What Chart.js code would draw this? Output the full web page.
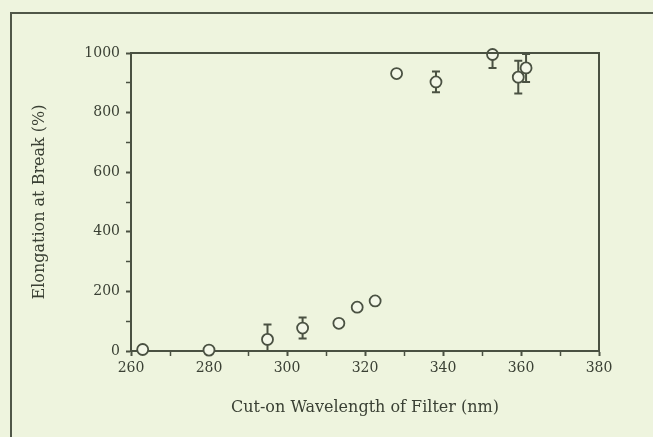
<!DOCTYPE html>
<html>
<head>
<meta charset="utf-8">
<script src="https://cdn.jsdelivr.net/npm/chart.js@4.4.1/dist/chart.umd.min.js"></script>
<style>
    html, body { margin: 0; padding: 0; background: #eef4de; overflow: hidden; }
    #frame {
        position: absolute; left: 10px; top: 12px; width: 700px; height: 500px;
        border-left: 2px solid #505748; border-top: 2px solid #505748;
    }
    #wrap { position: absolute; left: 0; top: 0; width: 653px; height: 437px; }
</style>
</head>
<body>
<div id="frame"></div>
<div id="wrap"><canvas id="elongation"></canvas></div>
<script>
// cut-on wavelength (nm) of each filter
const wavelengths = [263, 280, 295, 304, 313.3, 318, 322.6, 328.1, 338.2, 352.7, 359.3, 361.3];
// elongation at break (%)
const elongation = [5, 3, 39, 77, 93, 147, 168, 931, 903, 995, 919, 950];
// +/- error on elongation, 0 where no bar is shown
const elongationErr = [0, 0, 50, 35, 0, 0, 0, 0, 35, 45, 55, 47];
const xTicks = [260, 280, 300, 320, 340, 360, 380];
const yTicks = [0, 200, 400, 600, 800, 1000];

const ink = '#4a5142';
const textInk = '#3a4034';
const serif = "'DejaVu Serif', 'Liberation Serif', serif";

// error bars drawn under the points, clipped to the plot area
const errorBars = {
    id: 'errorBars',
    beforeDatasetsDraw(chart) {
        const ctx = chart.ctx;
        const x = chart.scales.x, y = chart.scales.y;
        const area = chart.chartArea;
        ctx.save();
        ctx.beginPath();
        ctx.rect(area.left, area.top - 1, area.right - area.left, area.bottom - area.top + 1);
        ctx.clip();
        ctx.strokeStyle = ink;
        ctx.lineWidth = 2;
        elongationErr.forEach(function (err, i) {
            if (!err) return;
            let px = x.getPixelForValue(wavelengths[i]);
            let top = y.getPixelForValue(elongation[i] + err);
            let bot = y.getPixelForValue(Math.max(0, elongation[i] - err));
            ctx.beginPath();
            ctx.moveTo(px, top); ctx.lineTo(px, bot);
            ctx.moveTo(px - 4, top); ctx.lineTo(px + 4, top);
            ctx.moveTo(px - 4, bot); ctx.lineTo(px + 4, bot);
            ctx.stroke();
        });
        ctx.restore();
    },
    // top and right sides of the plot box
    afterDraw(chart) {
        const ctx = chart.ctx;
        const a = chart.chartArea;
        ctx.save();
        ctx.strokeStyle = ink;
        ctx.lineWidth = 2;
        ctx.beginPath();
        ctx.moveTo(a.left, a.top);
        ctx.lineTo(a.right, a.top);
        ctx.lineTo(a.right, a.bottom);
        ctx.stroke();
        ctx.restore();
    }
};

let points = wavelengths.map(function (w, i) {
    return {x: w, y: elongation[i]};
});

// major ticks thicker than the in-between ones
function tickWidth(ctx) {
    return ctx.tick && ctx.tick.label !== '' ? 2 : 1.5;
}

new Chart(document.getElementById('elongation'), {
    type: 'scatter',
    data: {
        datasets: [{
            data: points,
            pointRadius: 5.5,
            pointBorderWidth: 1.8,
            borderColor: ink,
            backgroundColor: '#f3f7e8',
            clip: false
        }]
    },
    options: {
        responsive: true,
        maintainAspectRatio: false,
        animation: false,
        events: [],
        layout: {padding: {left: 0, top: 53, right: 54, bottom: 0}},
        plugins: {legend: {display: false}, tooltip: {enabled: false}},
        scales: {
            x: {
                type: 'linear',
                min: 260, max: 380,
                afterFit: function (s) { s.height = 86; },
                afterBuildTicks: function (s) {
                    s.ticks = [];
                    for (let v = 260; v <= 380; v += 10) s.ticks.push({value: v});
                },
                ticks: {
                    color: textInk,
                    font: {family: serif, size: 14},
                    padding: 4,
                    maxRotation: 0,
                    callback: function (v) { return xTicks.includes(v) ? String(v) : ''; }
                },
                grid: {
                    drawOnChartArea: false,
                    tickLength: 5,
                    tickWidth: tickWidth,
                    tickColor: ink
                },
                border: {color: ink, width: 2},
                title: {
                    display: true,
                    text: 'Cut-on Wavelength of Filter (nm)',
                    color: textInk,
                    font: {family: serif, size: 16},
                    padding: {top: 0, bottom: 20}
                }
            },
            y: {
                type: 'linear',
                min: 0, max: 1000,
                afterFit: function (s) { s.width = 131; },
                afterBuildTicks: function (s) {
                    s.ticks = [];
                    for (let v = 0; v <= 1000; v += 100) s.ticks.push({value: v});
                },
                ticks: {
                    color: textInk,
                    font: {family: serif, size: 14},
                    padding: 6,
                    callback: function (v) { return yTicks.includes(v) ? String(v) : ''; }
                },
                grid: {
                    drawOnChartArea: false,
                    tickLength: 5,
                    tickWidth: tickWidth,
                    tickColor: ink
                },
                border: {color: ink, width: 2},
                title: {
                    display: true,
                    text: 'Elongation at Break (%)',
                    color: textInk,
                    font: {family: serif, size: 16},
                    padding: {top: 30, bottom: 0}
                }
            }
        }
    },
    plugins: [errorBars]
});
</script>
</body>
</html>
